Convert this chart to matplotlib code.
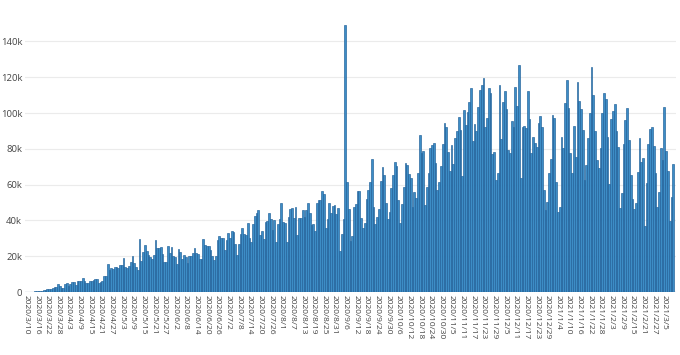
import matplotlib
matplotlib.use("Agg")
import matplotlib.pyplot as plt
import numpy as np
import pandas as pd

start_date = "2020-03-10"

# daily values (thousands)
vals_mar_apr = [0.1, 0.1, 0.1, 0.2, 0.2, 0.3, 0.3, 0.4, 0.5,
                0.7, 0.9, 1.2, 1.5, 1.7, 1.6, 2.0, 2.8, 2.6, 4.6, 3.5, 2.5, 2.2, 4.6, 5.0,
                3.5, 4.5, 5.4, 5.4, 4.0, 6.0, 6.3, 6.0, 7.8, 6.0, 5.0, 5.0, 6.3, 6.0, 6.5,
                7.3, 7.0, 5.0, 5.5, 6.3, 9.1, 9.1,
                15.8, 12.1, 13.2, 12.7]
vals_may_jun = [14.2, 14.0, 13.6, 15.0, 15.0, 19.2, 14.0, 13.2, 14.5, 17.0,
                20.3, 16.4, 14.2, 12.3, 29.4, 17.5, 22.5, 26.3, 23.1, 20.5,
                19.7, 18.2, 20.7, 29.0, 24.8, 24.8, 25.3, 21.2, 16.8, 16.8,
                25.7, 21.6, 25.0, 20.3, 19.7, 15.6, 23.8, 22.5, 18.4, 20.5,
                19.7, 16.0, 20.1, 20.3, 22.0, 24.4, 21.6, 21.2, 18.4, 18.4,
                29.6, 26.3, 25.7]
vals_jun_aug = [25.7, 23.5, 20.1, 17.9, 20.1, 29.0, 31.3, 30.0, 30.0, 23.5,
                29.0, 32.8, 30.0, 34.1, 33.7, 26.8, 20.7, 26.8, 32.4, 35.6,
                32.4, 31.8, 38.4, 30.0, 27.7, 37.8, 42.6, 44.3, 45.8, 31.8,
                34.1, 29.4, 39.3, 39.7, 43.9, 40.8, 34.6, 40.2, 28.1, 37.8,
                40.6, 49.5, 39.3, 38.7, 28.1, 42.1, 46.4, 47.1, 41.2, 47.7,
                31.8, 41.3, 41.2, 45.8]
vals_aug_oct = [41.7, 45.8, 49.5, 43.9, 37.4, 38.0, 34.3, 49.9, 51.4, 51.4,
                56.4, 54.6, 35.6, 40.6, 49.9, 44.3, 48.0, 48.6, 43.6, 46.7,
                22.9, 32.4, 40.6, 149.0, 61.6, 46.2, 28.7, 31.3, 47.7, 49.0,
                56.4, 56.4, 41.2, 35.6, 38.7, 51.8, 57.0, 61.6, 74.1, 47.7,
                38.0, 42.1, 46.2, 62.0, 69.6, 65.4, 49.9, 40.6, 44.9, 58.3,
                65.4, 72.4, 70.6, 51.4]
vals_oct_nov = [38.4, 49.2, 58.8, 72.3, 71.0, 65.9, 63.7, 47.3, 55.7, 52.3,
                66.7, 87.5, 77.8, 79.0, 48.6, 58.8, 66.3, 80.6, 82.1, 83.1,
                71.9, 57.0, 61.6, 70.4, 82.7, 94.6, 92.4, 78.4, 67.8, 82.1,
                71.5, 85.8, 90.1, 97.9, 90.5, 64.8, 101.7, 93.3, 100.7, 106.3,
                114.2, 84.5, 93.9, 90.1, 103.5, 112.8, 115.6, 119.7, 92.4, 97.0,
                113.8, 111.4, 77.1]
vals_nov_jan = [78.4, 62.6, 66.7, 115.6, 85.3, 106.3, 112.3, 102.2, 79.3, 77.5,
                95.7, 92.4, 114.3, 103.9, 126.8, 63.5, 92.0, 92.7, 91.4, 112.3,
                96.5, 77.8, 86.4, 83.4, 81.2, 94.6, 98.5, 92.4, 57.0, 45.8,
                50.5, 66.3, 74.1, 98.9, 97.0, 61.6, 44.9, 47.7, 86.8, 80.6,
                105.4, 118.4, 102.6, 77.5, 66.3, 92.9, 75.6, 117.5, 106.7, 102.2,
                90.5, 62.6, 71.0]
vals_jan_mar = [85.8, 100.0, 125.5, 110.0, 90.1, 73.7, 69.1, 80.3, 99.8, 111.0,
                107.6, 86.8, 60.5, 96.5, 101.3, 104.8, 90.1, 81.2, 46.7,
                55.1, 82.5, 96.1, 102.6, 84.9, 65.4, 51.8, 46.2, 49.5, 67.2,
                85.8, 72.8, 74.7, 36.9, 61.1, 82.7, 90.9, 92.0, 81.6, 66.3,
                47.3, 56.1, 80.6, 73.7, 103.2, 79.0, 67.8, 39.7, 53.3, 71.5]

values_k = (vals_mar_apr + vals_may_jun + vals_jun_aug + vals_aug_oct
            + vals_oct_nov + vals_nov_jan + vals_jan_mar)
values = np.array(values_k) * 1000.0

dates = pd.date_range(start_date, periods=len(values), freq="D")
tick_step = 6
tick_idx = list(range(0, len(values), tick_step))
tick_labels = [f"{dates[i].year}/{dates[i].month}/{dates[i].day}" for i in tick_idx]
y_ticks = [0, 20000, 40000, 60000, 80000, 100000, 120000, 140000]
y_labels = ["0", "20k", "40k", "60k", "80k", "100k", "120k", "140k"]

plt.rcParams['font.family'] = ['Open Sans', 'DejaVu Sans']

fig = plt.figure(figsize=(6.8, 3.55), dpi=100)
ax = fig.add_axes([25/680, 63/355, 651/680, 281/355])

x = np.arange(len(values))
ax.bar(x, values, width=1.0, color="#3d8dc6", edgecolor="#1f5f98",
       linewidth=0.45, zorder=3)

ax.set_xlim(-0.6, len(values) + 0.6)
ax.set_ylim(0, 157000)
ax.set_yticks(y_ticks)
ax.set_yticklabels(y_labels, fontsize=6.8, color="#444444")
ax.set_xticks(tick_idx)
ax.set_xticklabels(tick_labels, rotation=-90, fontsize=6.0, color="#444444",
                   va="top", ha="center")
ax.tick_params(axis="both", length=0, pad=2)
ax.grid(axis="y", color="#ebebeb", linewidth=0.8, zorder=0)
for s in ax.spines.values():
    s.set_visible(False)
ax.axhline(0, color="#3a5f80", linewidth=0.8, zorder=4)

fig.savefig("out.png", dpi=100)
